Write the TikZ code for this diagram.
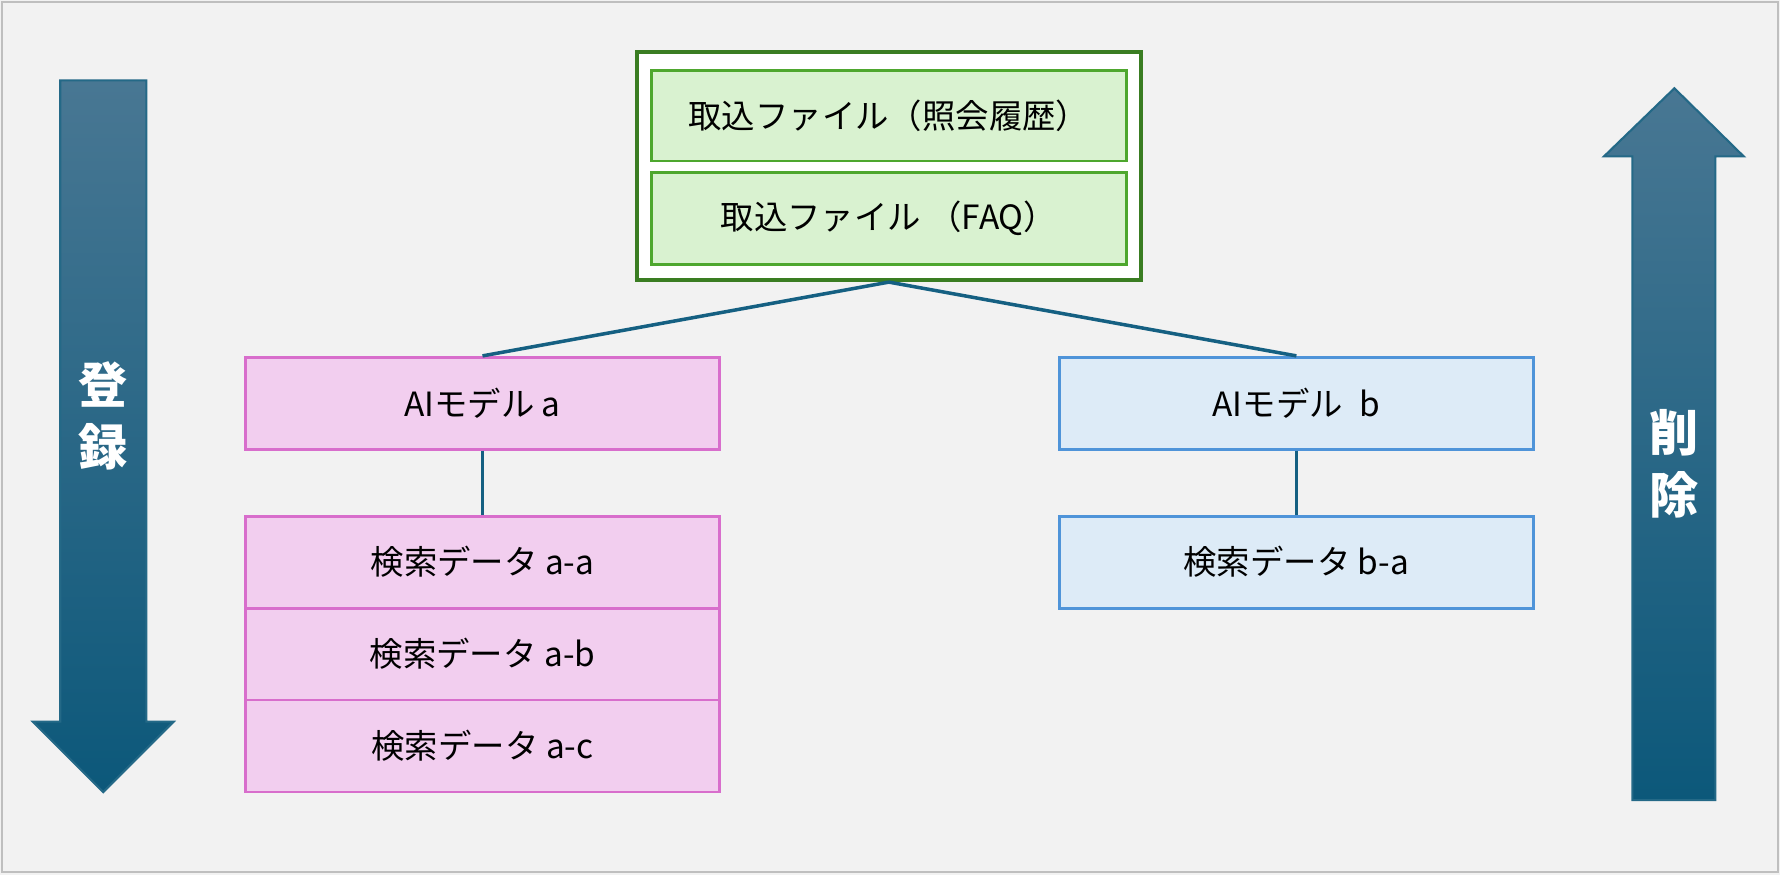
\documentclass[tikz,border=0pt]{standalone}
\usepackage{fontspec}
\setmainfont{Noto Sans CJK JP}
\usetikzlibrary{positioning}

\definecolor{pagebg}{HTML}{F2F2F2}
\definecolor{pageline}{HTML}{BFBFBF}
\definecolor{linkblue}{HTML}{156082}
\definecolor{pinkfill}{HTML}{F2CEEF}
\definecolor{pinkline}{HTML}{D86ECC}
\definecolor{bluefill}{HTML}{DDEBF7}
\definecolor{blueline}{HTML}{4F94D9}
\definecolor{greenfill}{HTML}{D9F2D0}
\definecolor{greenline}{HTML}{4EA72E}
\definecolor{greendark}{HTML}{3A7D22}
\definecolor{arrowtop}{HTML}{487793}
\definecolor{arrowbot}{HTML}{0C587A}

\begin{document}
\begin{tikzpicture}
	[
		box/.style={minimum width=4.745cm, minimum height=0.92cm, inner sep=0pt,
			line width=0.8pt, font=\fontsize{9.5}{11}\selectfont},
		modela/.style={box, draw=pinkline, fill=pinkfill},
		modelb/.style={box, draw=blueline, fill=bluefill},
		infile/.style={box, draw=greenline, fill=greenfill},
		outfile/.style={minimum width=5.04cm, minimum height=2.282cm, inner sep=0pt,
			draw=greendark, fill=white, line width=1.1pt},
		link/.style={draw=linkblue, line width=1pt},
		bigarrow/.style={top color=arrowtop, bottom color=arrowbot, draw=arrowbot!90!white, line width=0.6pt},
		arrowlabel/.style={text=white, font=\fontsize{14}{17.5}\selectfont\bfseries, align=center}
	]

	% page
	\fill [pagebg] (0, 0) rectangle (17.8, 8.75);
	\draw [pageline, line width=0.6pt] (0.02, 0.03) rectangle (17.78, 8.73);

	% import files
	\node (files)  at (8.889, 7.089) [outfile] {};
	\node (file1)  at (8.889, 7.594) [infile, minimum height=0.909cm] {取込ファイル（照会履歴）};
	\node (file2)  at (8.889, 6.567) [infile] {取込ファイル （FAQ）};

	% models
	\node (modela) at (4.825, 4.717) [modela] {AIモデル a};
	\node (modelb) at (12.964, 4.717) [modelb] {AIモデル\enspace b};

	% search data
	\node (dataaa) at (4.825, 3.128) [modela] {検索データ a-a};
	\node (dataab) at (4.825, 2.208) [modela] {検索データ a-b};
	\node (dataac) at (4.825, 1.289) [modela] {検索データ a-c};
	\node (databa) at (12.964, 3.128) [modelb] {検索データ b-a};

	\draw [link] (files.south) -- (modela.north);
	\draw [link] (files.south) -- (modelb.north);
	\draw [link] (modela.south) -- (dataaa.north);
	\draw [link] (modelb.south) -- (databa.north);

	% register / delete arrows
	\draw [bigarrow] (0.602, 7.946) -- (1.464, 7.946) -- (1.464, 1.533) -- (1.737, 1.533)
		-- (1.033, 0.829) -- (0.329, 1.533) -- (0.602, 1.533) -- cycle;
	\node (register) at (1.033, 4.59) [arrowlabel] {登\\録};

	\draw [bigarrow] (16.324, 0.749) -- (17.153, 0.749) -- (17.153, 7.186) -- (17.437, 7.186)
		-- (16.744, 7.867) -- (16.040, 7.186) -- (16.324, 7.186) -- cycle;
	\node (delete) at (16.744, 4.11) [arrowlabel] {削\\除};
\end{tikzpicture}
\end{document}
